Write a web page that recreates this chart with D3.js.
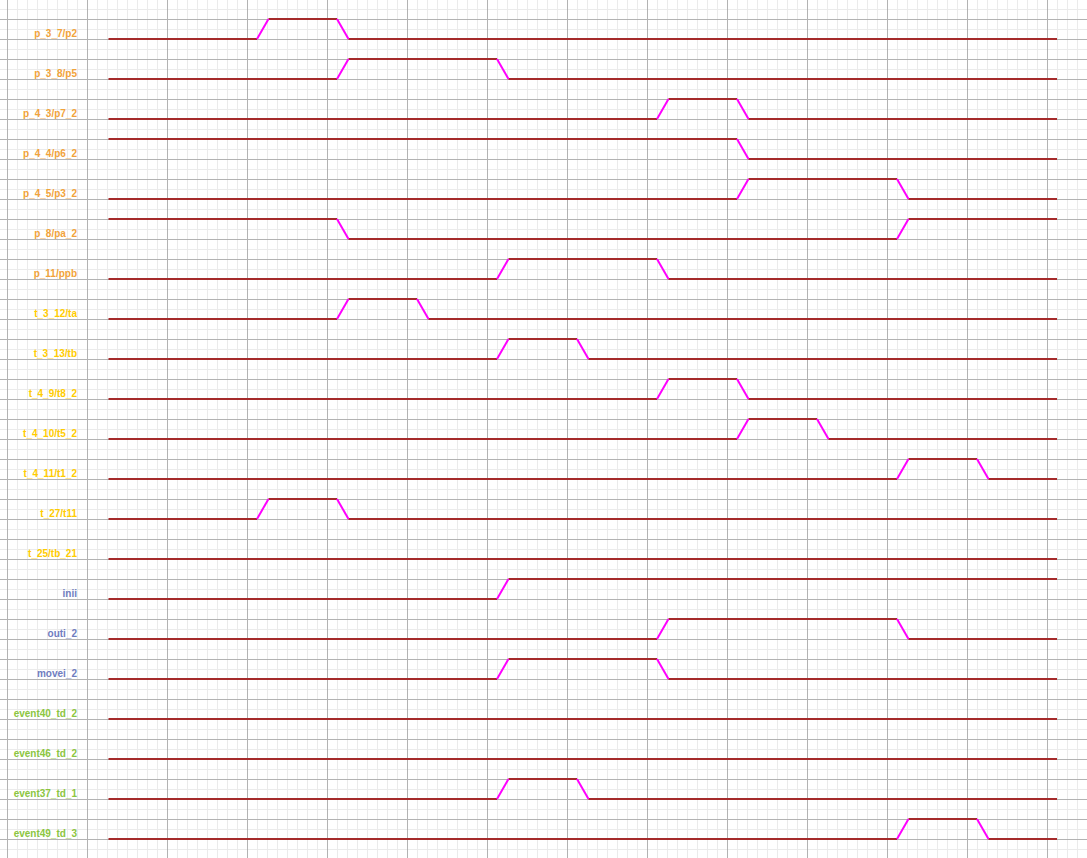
<!DOCTYPE html>
<html>
<head>
<meta charset="utf-8">
<script src="https://cdn.jsdelivr.net/npm/d3@7"></script>
<style>
html,body{margin:0;padding:0;background:#fff;overflow:hidden;}
svg{display:block;}
</style>
</head>
<body>
<svg id="chart" width="1087" height="858"></svg>
<script>
// ---- data ----
const signalNames = ["p_3_7/p2","p_3_8/p5","p_4_3/p7_2","p_4_4/p6_2","p_4_5/p3_2","p_8/pa_2","p_11/ppb",
  "t_3_12/ta","t_3_13/tb","t_4_9/t8_2","t_4_10/t5_2","t_4_11/t1_2","t_27/t11","t_25/tb_21",
  "inii","outi_2","movei_2","event40_td_2","event46_td_2","event37_td_1","event49_td_3"];
const signalGroups = ["p","p","p","p","p","p","p","t","t","t","t","t","t","t",
  "io","io","io","ev","ev","ev","ev"];
const initialValues = [0,0,0,1,0,1,0, 0,0,0,0,0,0,0, 0,0,0, 0,0,0,0];
const changeTimes = [
  [2,3],[3,5],[7,8],[8],[8,10],[3,10],[5,7],
  [3,4],[5,6],[7,8],[8,9],[10,11],[2,3],[],
  [5],[7,10],[5,7],
  [],[],[5,6],[10,11]
];
const timeDomain = [0,12];
const groupColors = {p:"#f2a33a", t:"#ffcc00", io:"#6f7dbf", ev:"#8cc63f"};

// ---- layout ----
const W = 1087, H = 858;
const svg = d3.select("#chart");
const x = d3.scaleLinear().domain(timeDomain).range([97,1057]);
const yLow = d3.scaleLinear().domain([0, signalNames.length-1]).range([39, 839]);
const amp = 20;
const tw = 11.5 / 80; // transition width in time units

// grid
const g = svg.append("g");
const minorX = d3.range(7, W, 10), minorY = d3.range(9, H, 10);
const isMajX = d => (d-7)%80===0, isMajY = d => (d-19)%20===0;
g.selectAll("line.mx").data(minorX.filter(d=>!isMajX(d))).join("line")
  .attr("x1", d=>d+0.5).attr("x2", d=>d+0.5).attr("y1",0).attr("y2",H)
  .attr("stroke","#ebebeb").attr("stroke-width",1);
g.selectAll("line.my").data(minorY.filter(d=>!isMajY(d))).join("line")
  .attr("y1", d=>d+0.5).attr("y2", d=>d+0.5).attr("x1",0).attr("x2",W)
  .attr("stroke","#ebebeb").attr("stroke-width",1);
g.selectAll("line.MX").data(minorX.filter(isMajX)).join("line")
  .attr("x1", d=>d+0.5).attr("x2", d=>d+0.5).attr("y1",0).attr("y2",H)
  .attr("stroke","#b3b3b3").attr("stroke-width",1);
g.selectAll("line.MY").data(minorY.filter(isMajY)).join("line")
  .attr("y1", d=>d+0.5).attr("y2", d=>d+0.5).attr("x1",0).attr("x2",W)
  .attr("stroke","#b3b3b3").attr("stroke-width",1);

// signals
const sigs = signalNames.map((n,i)=>({name:n, group:signalGroups[i], init:initialValues[i], changes:changeTimes[i], i}));
const sg = svg.append("g");
sigs.forEach(s => {
  const lo = yLow(s.i), hi = lo - amp;
  const lvl = v => v ? hi : lo;
  let v = s.init;
  let t0 = timeDomain[0] + tw;
  const levels = [], trans = [];
  s.changes.forEach(tc => {
    levels.push({x1:x(t0), x2:x(tc), y:lvl(v)});
    trans.push({x1:x(tc), y1:lvl(v), x2:x(tc+tw), y2:lvl(1-v)});
    v = 1-v;
    t0 = tc + tw;
  });
  levels.push({x1:x(t0), x2:x(timeDomain[1]), y:lvl(v)});
  sg.selectAll(null).data(levels).join("line")
    .attr("x1",d=>d.x1).attr("x2",d=>d.x2).attr("y1",d=>d.y).attr("y2",d=>d.y)
    .attr("stroke","#a52a2a").attr("stroke-width",2.2);
  sg.selectAll(null).data(trans).join("line")
    .attr("x1",d=>d.x1).attr("x2",d=>d.x2).attr("y1",d=>d.y1).attr("y2",d=>d.y2)
    .attr("stroke","#ff00ff").attr("stroke-width",2);
  svg.append("text").attr("x",77).attr("y",lo-2.2)
    .attr("text-anchor","end")
    .attr("font-family","'Liberation Sans', Arial, sans-serif")
    .attr("font-size","10px").attr("font-weight","bold")
    .attr("fill", groupColors[s.group]).text(s.name);
});
</script>
</body>
</html>
